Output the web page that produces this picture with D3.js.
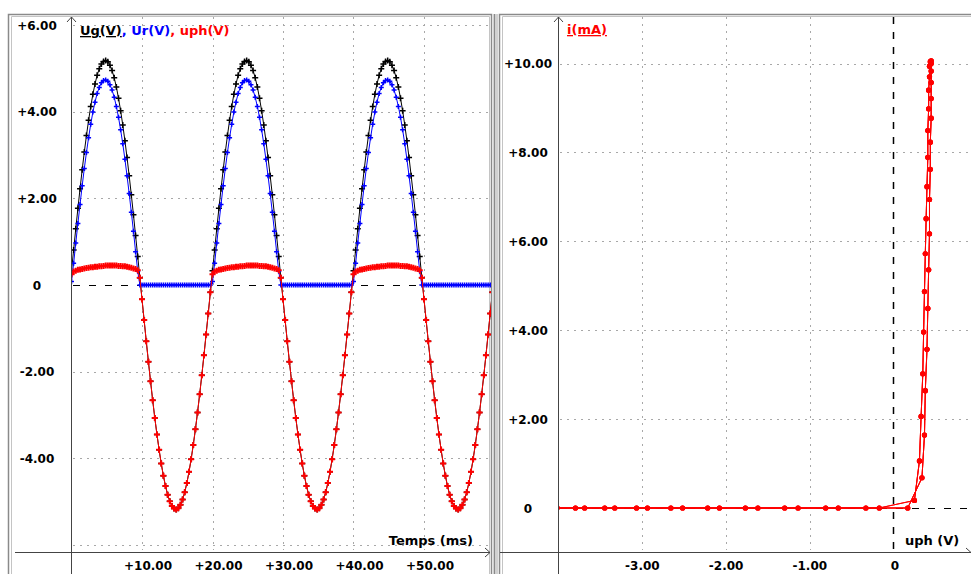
<!DOCTYPE html>
<html>
<head>
<meta charset="utf-8">
<script src="https://cdn.jsdelivr.net/npm/d3@7"></script>
<style>
body { margin: 0; background: #fff; }
text { font-family: "DejaVu Sans", sans-serif; font-weight: bold; }
</style>
</head>
<body>
<script>
// acquisition step (ms), 66 samples per 20 ms period
var dt = 20 / 66;

// generator voltage Ug (V)
var ug = [
 0.33,0.81,1.30,1.77,2.22,2.66,3.07,3.45,3.80,4.12, 4.40,4.64,4.84,4.99,5.10,5.16,5.18,5.15,5.07,4.95, 4.78,4.57,4.31,4.02,3.69,3.33,2.94,2.52,2.08,1.62, 1.14,0.66,0.17,
 -0.33,-0.81,-1.30,-1.77,-2.22,-2.66,-3.07,-3.45,-3.80,-4.12, -4.40,-4.64,-4.84,-4.99,-5.10,-5.16,-5.18,-5.15,-5.07,-4.95, -4.78,-4.57,-4.31,-4.02,-3.69,-3.33,-2.94,-2.52,-2.08,-1.62, -1.14,-0.66,-0.17,
 0.33,0.81,1.30,1.77,2.22,2.66,3.07,3.45,3.80,4.12, 4.40,4.64,4.84,4.99,5.10,5.16,5.18,5.15,5.07,4.95, 4.78,4.57,4.31,4.02,3.69,3.33,2.94,2.52,2.08,1.62, 1.14,0.66,0.17,
 -0.33,-0.81,-1.30,-1.77,-2.22,-2.66,-3.07,-3.45,-3.80,-4.12, -4.40,-4.64,-4.84,-4.99,-5.10,-5.16,-5.18,-5.15,-5.07,-4.95, -4.78,-4.57,-4.31,-4.02,-3.69,-3.33,-2.94,-2.52,-2.08,-1.62, -1.14,-0.66,-0.17,
 0.33,0.81,1.30,1.77,2.22,2.66,3.07,3.45,3.80,4.12, 4.40,4.64,4.84,4.99,5.10,5.16,5.18,5.15,5.07,4.95, 4.78,4.57,4.31,4.02,3.69,3.33,2.94,2.52,2.08,1.62, 1.14,0.66,0.17,
 -0.33,-0.81,-1.30,-1.77,-2.22,-2.66,-3.07,-3.45,-3.80,-4.12, -4.40,-4.64,-4.84,-4.99,-5.10,-5.16,-5.18,-5.15,-5.07,-4.95, -4.78,-4.57,-4.31,-4.02,-3.69,-3.33,-2.94,-2.52,-2.08,-1.62, -1.14,-0.66,-0.17
];

// resistor voltage Ur (V)
var ur = [
 0.08,0.50,0.97,1.42,1.86,2.29,2.69,3.06,3.40,3.71, 3.99,4.22,4.42,4.56,4.67,4.72,4.73,4.70,4.62,4.50, 4.33,4.12,3.87,3.58,3.26,2.90,2.52,2.11,1.68,1.24, 0.77,0.32,
 0,0,0,0,0,0,0,0,0,0, 0,0,0,0,0,0,0,0,0,0, 0,0,0,0,0,0,0,0,0,0, 0,0,0,0,
 0.08,0.50,0.97,1.42,1.86,2.29,2.69,3.06,3.40,3.71, 3.99,4.22,4.42,4.56,4.67,4.72,4.73,4.70,4.62,4.50, 4.33,4.12,3.87,3.58,3.26,2.90,2.52,2.11,1.68,1.24, 0.77,0.32,
 0,0,0,0,0,0,0,0,0,0, 0,0,0,0,0,0,0,0,0,0, 0,0,0,0,0,0,0,0,0,0, 0,0,0,0,
 0.08,0.50,0.97,1.42,1.86,2.29,2.69,3.06,3.40,3.71, 3.99,4.22,4.42,4.56,4.67,4.72,4.73,4.70,4.62,4.50, 4.33,4.12,3.87,3.58,3.26,2.90,2.52,2.11,1.68,1.24, 0.77,0.32,
 0,0,0,0,0,0,0,0,0,0, 0,0,0,0,0,0,0,0,0,0, 0,0,0,0,0,0,0,0,0,0, 0,0,0,0
];

// photodiode voltage uph (V)
var uph = [
 0.25,0.31,0.33,0.35,0.36,0.37,0.38,0.39,0.40,0.41, 0.41,0.42,0.42,0.43,0.43,0.44,0.45,0.45,0.45,0.45, 0.45,0.45,0.44,0.44,0.43,0.43,0.42,0.41,0.40,0.38, 0.37,0.34,0.17,
 -0.33,-0.81,-1.30,-1.77,-2.22,-2.66,-3.07,-3.45,-3.80,-4.12, -4.40,-4.64,-4.84,-4.99,-5.10,-5.16,-5.18,-5.15,-5.07,-4.95, -4.78,-4.57,-4.31,-4.02,-3.69,-3.33,-2.94,-2.52,-2.08,-1.62, -1.14,-0.66,-0.17,
 0.25,0.31,0.33,0.35,0.36,0.37,0.38,0.39,0.40,0.41, 0.41,0.42,0.42,0.43,0.43,0.44,0.45,0.45,0.45,0.45, 0.45,0.45,0.44,0.44,0.43,0.43,0.42,0.41,0.40,0.38, 0.37,0.34,0.17,
 -0.33,-0.81,-1.30,-1.77,-2.22,-2.66,-3.07,-3.45,-3.80,-4.12, -4.40,-4.64,-4.84,-4.99,-5.10,-5.16,-5.18,-5.15,-5.07,-4.95, -4.78,-4.57,-4.31,-4.02,-3.69,-3.33,-2.94,-2.52,-2.08,-1.62, -1.14,-0.66,-0.17,
 0.25,0.31,0.33,0.35,0.36,0.37,0.38,0.39,0.40,0.41, 0.41,0.42,0.42,0.43,0.43,0.44,0.45,0.45,0.45,0.45, 0.45,0.45,0.44,0.44,0.43,0.43,0.42,0.41,0.40,0.38, 0.37,0.34,0.17,
 -0.33,-0.81,-1.30,-1.77,-2.22,-2.66,-3.07,-3.45,-3.80,-4.12, -4.40,-4.64,-4.84,-4.99,-5.10,-5.16,-5.18,-5.15,-5.07,-4.95, -4.78,-4.57,-4.31,-4.02,-3.69,-3.33,-2.94,-2.52,-2.08,-1.62, -1.14,-0.66,-0.17
];

// current i (mA)
var iMA = [
 0.17,1.06,2.06,3.02,3.96,4.87,5.72,6.51,7.23,7.89, 8.49,8.98,9.40,9.70,9.94,10.04,10.06,10.00,9.83,9.57, 9.21,8.77,8.23,7.62,6.94,6.17,5.36,4.49,3.57,2.64, 1.64,0.68,
 0,0,0,0,0,0,0,0,0,0, 0,0,0,0,0,0,0,0,0,0, 0,0,0,0,0,0,0,0,0,0, 0,0,0,0,
 0.17,1.06,2.06,3.02,3.96,4.87,5.72,6.51,7.23,7.89, 8.49,8.98,9.40,9.70,9.94,10.04,10.06,10.00,9.83,9.57, 9.21,8.77,8.23,7.62,6.94,6.17,5.36,4.49,3.57,2.64, 1.64,0.68,
 0,0,0,0,0,0,0,0,0,0, 0,0,0,0,0,0,0,0,0,0, 0,0,0,0,0,0,0,0,0,0, 0,0,0,0,
 0.17,1.06,2.06,3.02,3.96,4.87,5.72,6.51,7.23,7.89, 8.49,8.98,9.40,9.70,9.94,10.04,10.06,10.00,9.83,9.57, 9.21,8.77,8.23,7.62,6.94,6.17,5.36,4.49,3.57,2.64, 1.64,0.68,
 0,0,0,0,0,0,0,0,0,0, 0,0,0,0,0,0,0,0,0,0, 0,0,0,0,0,0,0,0,0,0, 0,0,0,0
];

// ticks
var timeTicks = [10, 20, 30, 40, 50];
var voltTicks = [6, 4, 2, 0, -2, -4];
var voltGrid = [6, 4, 2, -2, -4, -6];
var uphTicks = [-3, -2, -1, 0];
var currentTicks = [10, 8, 6, 4, 2, 0];

var width = 971, height = 574;
var svg = d3.select('body').append('svg')
  .attr('width', width)
  .attr('height', height);

// scales
var xT = d3.scaleLinear().domain([0, 60]).range([71.5, 494.5]);
var yU = d3.scaleLinear().domain([-6, 6]).range([545, 25]);
var xD = d3.scaleLinear().domain([-4, 0]).range([558.7, 893.5]);
var yI = d3.scaleLinear().domain([0, 10]).range([508, 63.5]);

function fmt(v) {
  if (v === 0) return '0';
  return (v > 0 ? '+' : '') + v.toFixed(2);
}

var defs = svg.append('defs');
defs.append('clipPath').attr('id', 'clipL').append('rect')
  .attr('x', 72).attr('y', 16).attr('width', 419).attr('height', 535);
defs.append('clipPath').attr('id', 'clipR').append('rect')
  .attr('x', 559).attr('y', 16).attr('width', 412).attr('height', 535);

// frames
var frame = svg.append('g');
frame.append('path').attr('d', 'M8.5,574V14.5H491.5V574').attr('fill', 'none').attr('stroke', '#8a8a8a').attr('stroke-width', 1.5);
frame.append('path').attr('d', 'M11.5,574V16.5H489.5V574').attr('fill', 'none').attr('stroke', '#c4c4c4').attr('stroke-width', 1);
frame.append('rect').attr('x', 493).attr('y', 14).attr('width', 5).attr('height', 560).attr('fill', '#d0d0d0');
frame.append('line').attr('x1', 494.5).attr('x2', 494.5).attr('y1', 14).attr('y2', 574).attr('stroke', '#8a8a8a');
frame.append('path').attr('d', 'M499.5,574V14.5H971').attr('fill', 'none').attr('stroke', '#8a8a8a').attr('stroke-width', 1.5);
frame.append('path').attr('d', 'M502.5,574V16.5H971').attr('fill', 'none').attr('stroke', '#c4c4c4').attr('stroke-width', 1);

// ---------- left panel ----------
var left = svg.append('g');
var gridL = left.append('g').attr('stroke', '#a8a8a8').attr('stroke-dasharray', '2,5');
gridL.selectAll('line.h').data(voltGrid).enter().append('line')
  .attr('x1', 73).attr('x2', 490)
  .attr('y1', function (d) { return Math.round(yU(d)) + 0.5; })
  .attr('y2', function (d) { return Math.round(yU(d)) + 0.5; });
gridL.selectAll('line.v').data(timeTicks).enter().append('line')
  .attr('y1', 17).attr('y2', 550)
  .attr('x1', function (d) { return Math.round(xT(d)) + 0.5; })
  .attr('x2', function (d) { return Math.round(xT(d)) + 0.5; });
left.append('line') // zero line
  .attr('x1', 73).attr('x2', 490).attr('y1', yU(0) + 0.5).attr('y2', yU(0) + 0.5)
  .attr('stroke', '#000').attr('stroke-dasharray', '7,9');

// axes
left.append('line').attr('x1', 71.5).attr('x2', 71.5).attr('y1', 17).attr('y2', 574).attr('stroke', '#444');
left.append('line').attr('x1', 15).attr('x2', 490).attr('y1', 552.5).attr('y2', 552.5).attr('stroke', '#444');
left.append('path').attr('d', 'M67,22L71.5,17L76,22').attr('fill', 'none').attr('stroke', '#444');
left.append('path').attr('d', 'M485,548L490,552.5L485,557').attr('fill', 'none').attr('stroke', '#444');

left.selectAll('text.yl').data(voltTicks).enter().append('text')
  .attr('x', 37).attr('y', function (d) { return yU(d) + 4.5; })
  .attr('text-anchor', 'middle').attr('font-size', 12)
  .text(fmt);
left.selectAll('text.xl').data(timeTicks).enter().append('text')
  .attr('x', function (d) { return xT(d) + 6; }).attr('y', 570)
  .attr('text-anchor', 'middle').attr('font-size', 12)
  .text(fmt);
left.append('text').attr('x', 473).attr('y', 545).attr('text-anchor', 'end').attr('font-size', 13).text('Temps (ms)');

var legL = left.append('text').attr('x', 80).attr('y', 35).attr('font-size', 13);
legL.append('tspan').attr('fill', '#000').attr('text-decoration', 'underline').text('Ug(V)');
legL.append('tspan').attr('fill', '#0000ff').text(', Ur(V)');
legL.append('tspan').attr('fill', '#ff0000').text(', uph(V)');

// curves
var plotL = left.append('g').attr('clip-path', 'url(#clipL)');
function drawSeries(values, color, arm, sw) {
  var line = d3.line()
    .x(function (d, k) { return xT(k * dt); })
    .y(function (d) { return yU(d); });
  plotL.append('path').datum(values)
    .attr('d', line).attr('fill', 'none')
    .attr('stroke', color).attr('stroke-width', 1);
  plotL.append('g').selectAll('path').data(values).enter().append('path')
    .attr('transform', function (d, k) { return 'translate(' + xT(k * dt) + ',' + yU(d) + ')'; })
    .attr('d', 'M-' + arm + ',0H' + arm + 'M0,-' + arm + 'V' + arm)
    .attr('stroke', color).attr('stroke-width', sw);
}
drawSeries(ug, '#000', 3, 1.5);
drawSeries(ur, '#0000ff', 2.5, 1.5);
drawSeries(uph, '#ff0000', 3, 2);

// ---------- right panel ----------
var right = svg.append('g');
var gridR = right.append('g').attr('stroke', '#a8a8a8').attr('stroke-dasharray', '2,5');
gridR.selectAll('line.h').data(currentTicks.filter(function (d) { return d !== 0; })).enter().append('line')
  .attr('x1', 560).attr('x2', 971)
  .attr('y1', function (d) { return Math.round(yI(d)) + 0.5; })
  .attr('y2', function (d) { return Math.round(yI(d)) + 0.5; });
gridR.selectAll('line.v').data(uphTicks.filter(function (d) { return d !== 0; })).enter().append('line')
  .attr('y1', 17).attr('y2', 550)
  .attr('x1', function (d) { return Math.round(xD(d)) + 0.5; })
  .attr('x2', function (d) { return Math.round(xD(d)) + 0.5; });
right.append('line')
  .attr('x1', 560).attr('x2', 971).attr('y1', yI(0) + 0.5).attr('y2', yI(0) + 0.5)
  .attr('stroke', '#000').attr('stroke-dasharray', '7,9');
right.append('line')
  .attr('x1', xD(0)).attr('x2', xD(0)).attr('y1', 17).attr('y2', 552)
  .attr('stroke', '#000').attr('stroke-width', 1.5).attr('stroke-dasharray', '7,8');

right.append('line').attr('x1', 558.5).attr('x2', 558.5).attr('y1', 17).attr('y2', 574).attr('stroke', '#444');
right.append('line').attr('x1', 500).attr('x2', 971).attr('y1', 552.5).attr('y2', 552.5).attr('stroke', '#444');
right.append('path').attr('d', 'M554,22L558.5,17L563,22').attr('fill', 'none').attr('stroke', '#444');
right.append('path').attr('d', 'M966,548L971,552.5').attr('fill', 'none').attr('stroke', '#444');

right.selectAll('text.yl').data(currentTicks).enter().append('text')
  .attr('x', 528).attr('y', function (d) { return yI(d) + 4.5; })
  .attr('text-anchor', 'middle').attr('font-size', 12)
  .text(fmt);
right.selectAll('text.xl').data(uphTicks).enter().append('text')
  .attr('x', function (d) { return xD(d) + (d === 0 ? 1.5 : 0); }).attr('y', 570)
  .attr('text-anchor', 'middle').attr('font-size', 12)
  .text(fmt);
right.append('text').attr('x', 905).attr('y', 545).attr('font-size', 13).text('uph (V)');
right.append('text').attr('x', 567).attr('y', 34).attr('font-size', 13)
  .attr('fill', '#ff0000').attr('text-decoration', 'underline').text('i(mA)');

var pts = uph.map(function (u, k) { return [u, iMA[k]]; });
var plotR = right.append('g').attr('clip-path', 'url(#clipR)');
plotR.append('path').datum(pts)
  .attr('d', d3.line().x(function (d) { return xD(d[0]); }).y(function (d) { return yI(d[1]); }))
  .attr('fill', 'none').attr('stroke', '#ff0000').attr('stroke-width', 1);
plotR.append('g').selectAll('circle').data(pts).enter().append('circle')
  .attr('cx', function (d) { return xD(d[0]); })
  .attr('cy', function (d) { return yI(d[1]); })
  .attr('r', 2.6).attr('fill', '#ff0000');
</script>
</body>
</html>
